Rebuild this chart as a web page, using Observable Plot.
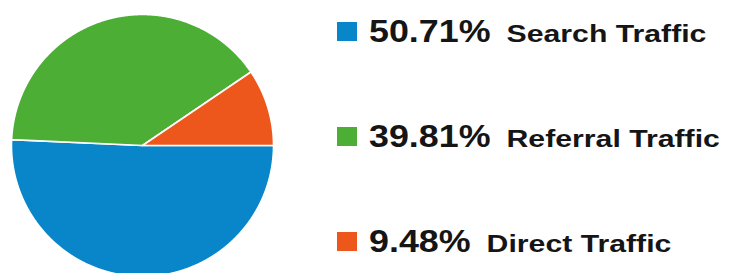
<!DOCTYPE html>
<html>
<head>
<meta charset="utf-8">
<script src="https://cdn.jsdelivr.net/npm/d3@7"></script>
<script src="https://cdn.jsdelivr.net/npm/@observablehq/plot@0.6"></script>
<style>
  html, body { margin: 0; padding: 0; background: #fff; overflow: hidden; }
  #chart { position: relative; width: 730px; height: 273px; }
</style>
</head>
<body>
<div id="chart"></div>
<script>
// ---- data ----
const categories = ["Search Traffic", "Referral Traffic", "Direct Traffic"];
const values = [50.71, 39.81, 9.48];
const percentLabels = ["50.71%", "39.81%", "9.48%"];
const colors = ["#0886c9", "#4cae34", "#ee571c"];

// ---- pie geometry from data (start at 3 o'clock, clockwise) ----
const arcs = d3.pie().sort(null).value(d => d.value)
  .startAngle(Math.PI / 2).endAngle(Math.PI / 2 + 2 * Math.PI)(
    categories.map((c, i) => ({cat: c, value: values[i]}))
  );
const pts = [];
for (const a of arcs) {
  const cat = a.data.cat;
  pts.push({cat, x: 0, y: 0});
  const n = Math.max(2, Math.ceil((a.endAngle - a.startAngle) / 0.005));
  for (let k = 0; k <= n; k++) {
    const t = a.startAngle + (a.endAngle - a.startAngle) * k / n;
    pts.push({cat, x: Math.sin(t), y: Math.cos(t)});
  }
}

const plot = Plot.plot({
  width: 730,
  height: 273,
  marginTop: 0, marginRight: 0, marginBottom: 0, marginLeft: 0,
  x: {domain: [-1, 1], range: [11, 273], axis: null},
  y: {domain: [-1, 1], range: [276, 14], axis: null},
  color: {domain: categories, range: colors},
  marks: [
    Plot.line(pts, {x: "x", y: "y", z: "cat", fill: "cat", stroke: "white",
      strokeWidth: 1.6, strokeLinejoin: "round", curve: "linear-closed"})
  ]
});
plot.style.overflow = "hidden";
document.getElementById("chart").appendChild(plot);

// ---- legend ----
const svg = d3.select(plot);
const g = svg.append("g").attr("class", "legend").attr("text-anchor", "start");
const baseY = 42, rowStep = 105;
categories.forEach((c, i) => {
  const y = baseY + rowStep * i;
  g.append("rect")
    .attr("x", 337).attr("y", y - 20)
    .attr("width", 20).attr("height", 19)
    .attr("fill", colors[i]);
  const pct = g.append("text")
    .attr("text-anchor", "start")
    .attr("transform", `translate(369,${y}) scale(1.12,1)`)
    .attr("font-family", "'Liberation Sans', Arial, sans-serif")
    .attr("font-weight", "bold")
    .attr("font-size", 32)
    .attr("fill", "#151515")
    .text(percentLabels[i]);
  const w = pct.node().getComputedTextLength() * 1.12;
  g.append("text")
    .attr("text-anchor", "start")
    .attr("transform", `translate(${369 + w + 16},${y}) scale(1.26,1)`)
    .attr("font-family", "'Liberation Sans', Arial, sans-serif")
    .attr("font-weight", "bold")
    .attr("font-size", 24)
    .attr("fill", "#151515")
    .text(c);
});
</script>
</body>
</html>
